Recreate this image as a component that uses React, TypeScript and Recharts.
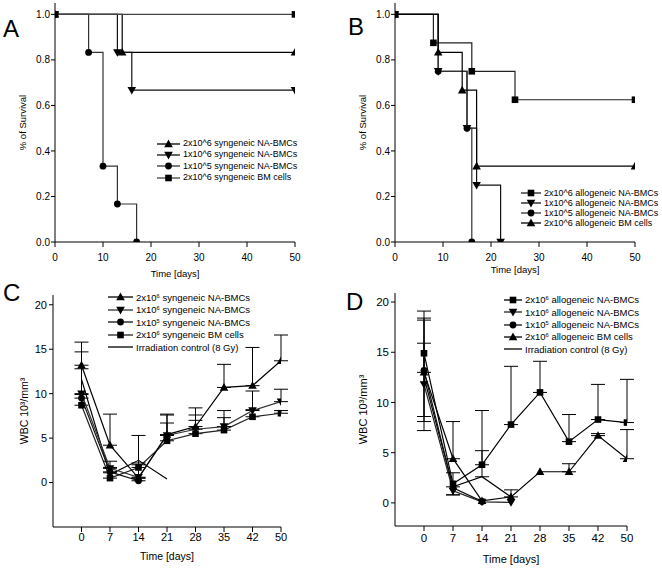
import React from "react";
import { LineChart, Line, XAxis, YAxis, ErrorBar } from "recharts";

const FONT = "'Liberation Sans', Arial, Helvetica, sans-serif";

// ---- A: syngeneic survival (Kaplan-Meier) ----
const synHighDays = [0, 14, 50];
const synHighSurv = [1, 0.833, 0.833];
const synMidDays = [0, 13, 16, 50];
const synMidSurv = [1, 0.833, 0.667, 0.667];
const synLowDays = [0, 7, 10, 13, 17];
const synLowSurv = [1, 0.833, 0.333, 0.167, 0];
const synBmDays = [0, 50];
const synBmSurv = [1, 1];

// ---- B: allogeneic survival ----
const alloHighDays = [0, 8, 16, 25, 50];
const alloHighSurv = [1, 0.875, 0.75, 0.625, 0.625];
const alloMidDays = [0, 9, 15, 17, 22];
const alloMidSurv = [1, 0.75, 0.5, 0.25, 0];
const alloLowDays = [0, 9, 15, 16];
const alloLowSurv = [1, 0.75, 0.5, 0];
const alloBmDays = [0, 9, 14, 17, 50];
const alloBmSurv = [1, 0.833, 0.667, 0.333, 0.333];

const survTicks = [0, 0.2, 0.4, 0.6, 0.8, 1.0];
const dayTicks = [0, 10, 20, 30, 40, 50];

// ---- C / D: white blood cell counts ----
const wbcDays = ["0", "7", "14", "21", "28", "35", "42", "50"];
const wbcTicks = [0, 5, 10, 15, 20];

const synHighWbc = [13.2, 4.2, 0.5, 5.4, 6.3, 10.7, 10.9, 13.7];
const synHighErr = [2.6, 3.5, 1.7, 2.3, 2.1, 2.6, 4.3, 2.9];
const synMidWbc = [10.0, 1.6, 0.6, 5.3, 6.0, 6.3, 8.1, 9.1];
const synMidErr = [4.7, 0.8, 1.4, 2.3, 1.6, 1.8, 2.2, 1.4];
const synLowWbc = [9.5, 1.2, 0.2];
const synLowErr = [3.3, 0.5, 0.3];
const synBmWbc = [8.7, 0.5, 1.7, 4.7, 5.5, 5.9, 7.4, 7.8];
const synBmErr = [1.2, 0.6, 3.6, 2.0, 1.5, 1.4, 0.8, 0.3];
const synIrrWbc = [11.6, 0.9, 2.5, 0.4];

const alloHighWbc = [14.9, 1.9, 3.8, 7.8, 11.0, 6.1, 8.3, 8.0];
const alloHighErrLo = [6.3, 1.1, 0, 0, 0, 0, 0, 0];
const alloHighErrHi = [4.2, 1.1, 5.4, 5.8, 3.1, 2.7, 3.5, 4.3];
const alloMidWbc = [11.8, 1.2, 0.1, 0.05];
const alloMidErrLo = [4.6, 0.4, 0, 0];
const alloMidErrHi = [6.6, 0.4, 0, 0];
const alloLowWbc = [13.2, 1.5, 0.15];
const alloLowErrLo = [5.1, 0, 0];
const alloLowErrHi = [5.0, 0, 0];
const alloBmWbc = [13.0, 4.4, 0.2, 0.6, 3.1, 3.1, 6.7, 4.4];
const alloBmErrHi = [2.9, 3.7, 0, 0.7, 0, 0.8, 0.2, 2.9];
const alloIrrWbc = [12.5, 1.6, 2.6, 0.6];
const alloIrrErrHi = [0, 0, 2.6, 0];

type Shape = "up" | "down" | "circle" | "square" | "none";

function Marker({ cx, cy, shape, fill = "#000" }: { cx: number; cy: number; shape: Shape; fill?: string }) {
  if (cx == null || cy == null || shape === "none") return <g />;
  if (shape === "square") return <rect x={cx - 3.3} y={cy - 3.3} width={6.6} height={6.6} fill={fill} />;
  if (shape === "circle") return <circle cx={cx} cy={cy} r={3.4} fill={fill} />;
  if (shape === "up")
    return <polygon points={`${cx},${cy - 4.4} ${cx - 4.3},${cy + 3.2} ${cx + 4.3},${cy + 3.2}`} fill={fill} />;
  return <polygon points={`${cx},${cy + 4.4} ${cx - 4.3},${cy - 3.2} ${cx + 4.3},${cy - 3.2}`} fill={fill} />;
}

const km = (days: number[], surv: number[]) => days.map((d, i) => ({ x: d, y: surv[i] }));
const wbc = (vals: number[], lo: number[] | null, hi: number[] | null) =>
  vals.map((v, i) => {
    const l = lo ? lo[i] : 0;
    const h = hi ? hi[i] : 0;
    return { x: i, y: v, err: l || h ? [l, h] : null };
  });

interface Series {
  id: string;
  data: { x: number; y: number; err?: number[] | null }[];
  shape: Shape;
  color: string;
  label: React.ReactNode;
  errors?: boolean;
}

const tickStyle = (size: number) => ({ fontSize: size, fill: "#000", fontFamily: FONT });

function LegendBox({ items, left, top, rowH, iconW, fontSize }: {
  items: Series[]; left: number; top: number; rowH: number; iconW: number; fontSize: number;
}) {
  return (
    <div style={{ position: "absolute", left, top, fontFamily: FONT, fontSize, color: "#000", lineHeight: 1 }}>
      {items.map((s) => (
        <div key={s.id} style={{ display: "flex", alignItems: "center", height: rowH, whiteSpace: "nowrap" }}>
          <svg width={iconW} height={10} style={{ marginRight: 3 }}>
            <line x1={0} y1={5} x2={iconW} y2={5} stroke={s.color} strokeWidth={1.3} />
            <Marker cx={iconW / 2} cy={5} shape={s.shape} />
          </svg>
          <span>{s.label}</span>
        </div>
      ))}
    </div>
  );
}

function Panel({ left, top, letter, letterPos, series, step, margin, yWidth, xHeight, xDomain, xTicks, xFmt,
  yDomain, yTicks, yFmt, yLabel, yLabelOffset, tickSize, xTickMargin, yTickMargin, titleSize, legend }: any) {
  return (
    <div style={{ position: "absolute", left, top, width: 331, height: top === 0 ? 290 : 288 }}>
      <LineChart width={331} height={top === 0 ? 290 : 288} margin={margin}>
        <XAxis
          type="number"
          dataKey="x"
          domain={xDomain}
          ticks={xTicks}
          tickFormatter={xFmt}
          allowDataOverflow
          interval={0}
          height={xHeight}
          stroke="#000"
          tickSize={5}
          tickMargin={xTickMargin}
          tick={tickStyle(tickSize)}
          label={{ value: "Time [days]", position: "insideBottom", offset: 0, style: { fontSize: titleSize, fontFamily: FONT, fill: "#000" } }}
        />
        <YAxis
          type="number"
          domain={yDomain}
          ticks={yTicks}
          tickFormatter={yFmt}
          allowDataOverflow
          interval={0}
          width={yWidth}
          stroke="#000"
          tickSize={4}
          tickMargin={yTickMargin}
          tick={tickStyle(tickSize)}
          label={{ value: yLabel, angle: -90, position: "insideLeft", offset: yLabelOffset, style: { textAnchor: "middle", fontSize: titleSize, fontFamily: FONT, fill: "#000" } }}
        />
        {series.map((s: Series) => (
          <Line
            key={s.id}
            data={s.data}
            dataKey="y"
            type={step ? "stepAfter" : "linear"}
            stroke={s.color}
            strokeWidth={1.2}
            isAnimationActive={false}
            activeDot={false}
            dot={s.shape === "none" ? false : (p: any) => <Marker key={`${s.id}-${p.index}`} cx={p.cx} cy={p.cy} shape={s.shape} />}
          >
            {s.errors ? <ErrorBar dataKey="err" direction="y" width={7} stroke="#000" strokeWidth={1} /> : null}
          </Line>
        ))}
      </LineChart>
      <div style={{ position: "absolute", left: letterPos[0], top: letterPos[1], fontFamily: FONT, fontSize: 24, lineHeight: 1 }}>
        {letter}
      </div>
      {legend}
    </div>
  );
}

const sup = (base: string, e: string, rest: string) => (
  <>
    {base}
    <sup style={{ fontSize: "0.6em", verticalAlign: "0.6em" }}>{e}</sup>
    {rest}
  </>
);

export default function App() {
  const aSeries: Series[] = [
    { id: "a1", data: km(synHighDays, synHighSurv), shape: "up", color: "#000", label: "2x10^6 syngeneic NA-BMCs" },
    { id: "a2", data: km(synMidDays, synMidSurv), shape: "down", color: "#111", label: "1x10^6 syngeneic NA-BMCs" },
    { id: "a3", data: km(synLowDays, synLowSurv), shape: "circle", color: "#333", label: "1x10^5 syngeneic NA-BMCs" },
    { id: "a4", data: km(synBmDays, synBmSurv), shape: "square", color: "#444", label: "2x10^6 syngeneic BM cells" },
  ];
  const bSeries: Series[] = [
    { id: "b1", data: km(alloHighDays, alloHighSurv), shape: "square", color: "#222", label: "2x10^6 allogeneic NA-BMCs" },
    { id: "b2", data: km(alloMidDays, alloMidSurv), shape: "down", color: "#111", label: "1x10^6 allogeneic NA-BMCs" },
    { id: "b3", data: km(alloLowDays, alloLowSurv), shape: "circle", color: "#333", label: "1x10^5 allogeneic NA-BMCs" },
    { id: "b4", data: km(alloBmDays, alloBmSurv), shape: "up", color: "#000", label: "2x10^6 allogeneic BM cells" },
  ];
  const cSeries: Series[] = [
    { id: "c5", data: wbc(synIrrWbc, null, null), shape: "none", color: "#000", label: "Irradiation control (8 Gy)" },
    { id: "c4", data: wbc(synBmWbc, null, synBmErr), shape: "square", color: "#222", label: sup("2x10", "6", " syngeneic BM cells"), errors: true },
    { id: "c3", data: wbc(synLowWbc, null, synLowErr), shape: "circle", color: "#111", label: sup("1x10", "5", " syngeneic NA-BMCs"), errors: true },
    { id: "c2", data: wbc(synMidWbc, null, synMidErr), shape: "down", color: "#333", label: sup("1x10", "6", " syngeneic NA-BMCs"), errors: true },
    { id: "c1", data: wbc(synHighWbc, null, synHighErr), shape: "up", color: "#000", label: sup("2x10", "6", " syngeneic NA-BMCs"), errors: true },
  ];
  const dSeries: Series[] = [
    { id: "d5", data: wbc(alloIrrWbc, null, alloIrrErrHi), shape: "none", color: "#000", label: "Irradiation control (8 Gy)", errors: true },
    { id: "d4", data: wbc(alloBmWbc, null, alloBmErrHi), shape: "up", color: "#000", label: sup("2x10", "6", " allogeneic BM cells"), errors: true },
    { id: "d3", data: wbc(alloLowWbc, alloLowErrLo, alloLowErrHi), shape: "circle", color: "#111", label: sup("1x10", "5", " allogeneic NA-BMCs"), errors: true },
    { id: "d2", data: wbc(alloMidWbc, alloMidErrLo, alloMidErrHi), shape: "down", color: "#222", label: sup("1x10", "6", " allogeneic NA-BMCs"), errors: true },
    { id: "d1", data: wbc(alloHighWbc, alloHighErrLo, alloHighErrHi), shape: "square", color: "#000", label: sup("2x10", "6", " allogeneic NA-BMCs"), errors: true },
  ];

  const survFmt = (v: number) => v.toFixed(1);
  const dayFmt = (v: number) => wbcDays[v] ?? "";

  return (
    <div style={{ position: "absolute", left: 0, top: 0, width: 662, height: 568, background: "#fff" }}>
      <Panel
        left={0} top={0} letter="A" letterPos={[3, 17]} series={aSeries} step
        margin={{ top: 3, right: 36, bottom: 13, left: 0 }} yWidth={55} xHeight={35}
        xDomain={[0, 50]} xTicks={dayTicks} yDomain={[0, 1.05]} yTicks={survTicks} yFmt={survFmt}
        yLabel="% of Survival" yLabelOffset={23} tickSize={10} xTickMargin={7} yTickMargin={1} titleSize={9.5}
        legend={<LegendBox items={aSeries} left={157} top={138} rowH={11.3} iconW={23} fontSize={9} />}
      />
      <Panel
        left={331} top={0} letter="B" letterPos={[17, 15]} series={bSeries} step
        margin={{ top: 3, right: 27, bottom: 17, left: 0 }} yWidth={64} xHeight={31}
        xDomain={[0, 50]} xTicks={dayTicks} yDomain={[0, 1.05]} yTicks={survTicks} yFmt={survFmt}
        yLabel="% of Survival" yLabelOffset={32} tickSize={10} xTickMargin={7} yTickMargin={1} titleSize={9.5}
        legend={<LegendBox items={bSeries} left={190} top={188} rowH={10} iconW={20} fontSize={9} />}
      />
      <Panel
        left={0} top={280} letter="C" letterPos={[3, 1]} series={cSeries}
        margin={{ top: 15, right: 50, bottom: 8, left: 0 }} yWidth={53} xHeight={33}
        xDomain={[-1, 7]} xTicks={[0, 1, 2, 3, 4, 5, 6, 7]} xFmt={dayFmt} yDomain={[-5, 21.1]} yTicks={wbcTicks}
        yLabel="WBC 10³/mm³" yLabelOffset={24} tickSize={11} xTickMargin={1} yTickMargin={2} titleSize={10.5}
        legend={<LegendBox items={[...cSeries].reverse()} left={108} top={11} rowH={12.5} iconW={25} fontSize={9.5} />}
      />
      <Panel
        left={331} top={280} letter="D" letterPos={[15, 10]} series={dSeries}
        margin={{ top: 13, right: 35, bottom: 5, left: 0 }} yWidth={64} xHeight={37}
        xDomain={[-1, 7]} xTicks={[0, 1, 2, 3, 4, 5, 6, 7]} xFmt={dayFmt} yDomain={[-2.3, 20.9]} yTicks={wbcTicks}
        yLabel="WBC 10³/mm³" yLabelOffset={32} tickSize={11.5} xTickMargin={3} yTickMargin={2} titleSize={11}
        legend={<LegendBox items={[...dSeries].reverse()} left={173} top={14} rowH={12.3} iconW={18} fontSize={9.5} />}
      />
    </div>
  );
}
